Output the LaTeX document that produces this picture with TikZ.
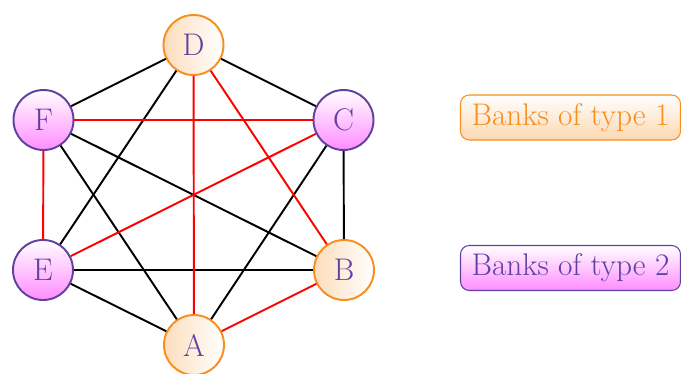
\documentclass[tikz,border=0pt]{standalone}
\usepackage{amsmath}
\usepackage{amssymb}
\usepackage{tikz}
\usetikzlibrary{arrows,positioning}

\definecolor{bankviolet}{RGB}{95,65,160}
\definecolor{bankorange}{RGB}{247,142,30}

\begin{document}
\begin{tikzpicture}[font=\fontsize{17.8}{21}\selectfont,
    bankone/.style={circle, draw=bankorange, line width=1.1pt, minimum size=1.2cm,
      left color=bankorange!30, right color=white, text=bankviolet, inner sep=0pt},
    banktwo/.style={circle, draw=bankviolet, line width=1.1pt, minimum size=1.2cm,
      top color=white, bottom color=magenta!45, text=bankviolet, inner sep=0pt},
    legendbox/.style={rounded corners=5pt, minimum width=4.4cm, minimum height=0.9cm,
      line width=0.6pt}]
    \useasboundingbox (-3.87,-3.58) rectangle (9.75,3.9);
    \node[bankone] (D) at (0,3) {D};
    \node[banktwo] (C) at (3,1.5) {C};
    \node[bankone] (B) at (3.01,-1.5) {B};
    \node[bankone] (A) at (0.01,-3) {A};
    \node[banktwo] (E) at (-3.01,-1.5) {E};
    \node[banktwo] (F) at (-3,1.5) {F};
    \path[line width=1.1pt]
    (D) edge (F)
    (D) edge (C)
    (D) edge (E)
    (F) edge (B)
    (F) edge (A)
    (C) edge (B)
    (C) edge (A)
    (E) edge (B)
    (E) edge (A);
    \path[line width=1.1pt, draw=red]
    (D) edge (A)
    (D) edge (B)
    (F) edge (C)
    (F) edge (E)
    (C) edge (E)
    (A) edge (B);
    \node[legendbox, draw=bankorange, top color=white, bottom color=bankorange!35,
      text=bankorange] (type1) at (7.54,1.55) {Banks of type 1};
    \node[legendbox, draw=bankviolet, top color=white, bottom color=magenta!45,
      text=bankviolet] (type2) at (7.54,-1.46) {Banks of type 2};
  \end{tikzpicture}
\end{document}
